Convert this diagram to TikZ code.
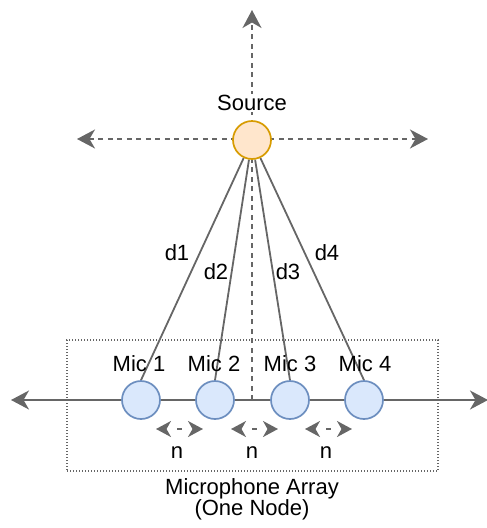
\documentclass[tikz,border=0pt]{standalone}
\usepackage{fontspec}
\setmainfont{Liberation Sans}
\usetikzlibrary{arrows.meta,backgrounds,calc}
\definecolor{linegray}{HTML}{666666}
\definecolor{srcfill}{HTML}{FFE6CC}
\definecolor{srcdraw}{HTML}{D79B00}
\definecolor{micfill}{HTML}{DAE8FC}
\definecolor{micdraw}{HTML}{6C8EBF}
\tikzset{
  lbl/.style={font=\fontsize{22}{24}\selectfont, inner sep=0pt, text=black},
  micnode/.style={circle, minimum size=38pt, inner sep=0pt, fill=micfill, draw=micdraw, line width=1.7pt},
  srcnode/.style={circle, minimum size=38pt, inner sep=0pt, fill=srcfill, draw=srcdraw, line width=1.7pt},
  conn/.style={draw=linegray, line width=1.8pt},
  dashline/.style={draw=linegray, line width=1.8pt, dash pattern=on 5pt off 4.5pt},
  bigtip/.style={arrows={-Stealth[length=18pt,width=19pt,inset=5.5pt]}},
  bigtips/.style={arrows={Stealth[length=18pt,width=19pt,inset=5.5pt]-Stealth[length=18pt,width=19pt,inset=5.5pt]}},
  smalltips/.style={draw=linegray, line width=1.8pt, dash pattern=on 0pt off 200pt,
     arrows={Stealth[length=15pt,width=16pt,inset=4.5pt]-Stealth[length=15pt,width=16pt,inset=4.5pt]}},
  middash/.style={draw=linegray, line width=1.8pt},
  arraybox/.style={draw=linegray, line width=1.2pt, dash pattern=on 1.2pt off 1.8pt, minimum width=371pt, minimum height=131pt, inner sep=0pt}
}
\begin{document}
\begin{tikzpicture}[x=1pt,y=-1pt]
\useasboundingbox (0,0) rectangle (487,528);
% nodes
\node[arraybox] (box) at (252.5,405.5) {};
\node[srcnode] (S) at (252,140) {};
\node[lbl, fill=white, inner sep=1pt] (slab) at (252,103) {Source};
\node[micnode] (m1) at (141,400) {};
\node[micnode] (m2) at (215,400) {};
\node[micnode] (m3) at (290,400) {};
\node[micnode] (m4) at (364,400) {};
\node[lbl] (l1) at (139,364) {Mic 1};
\node[lbl] (l2) at (214,364) {Mic 2};
\node[lbl] (l3) at (290,364) {Mic 3};
\node[lbl] (l4) at (365,364) {Mic 4};
\node[lbl] (d1) at (177,253) {d1};
\node[lbl] (d2) at (216,272) {d2};
\node[lbl] (d3) at (288,272) {d3};
\node[lbl] (d4) at (327,253) {d4};
\node[lbl] (n1) at (177,453) {n};
\node[lbl] (n2) at (252,453) {n};
\node[lbl] (n3) at (326,453) {n};
\node[lbl] (arr) at (252,489) {Microphone Array};
\node[lbl] (one) at (252,510) {(One Node)};
% free ends
\coordinate (vtop) at (252,10);
\coordinate (vbot) at (252,400);
\coordinate (hl) at (77,139);
\coordinate (hr) at (428,139);
\coordinate (al) at (11,400);
\coordinate (ar) at (488,400);
\coordinate (s1l) at (156,429); \coordinate (s1r) at (203,429);
\coordinate (s2l) at (231,429); \coordinate (s2r) at (278,429);
\coordinate (s3l) at (305,429); \coordinate (s3r) at (352,429);
\begin{scope}[on background layer]
  \draw[dashline, bigtip] (vbot) -- (vtop);
  \draw[dashline, bigtips] (hl) -- (hr);
  \draw[conn, bigtips] (al) -- (ar);
  \draw[conn] (S) -- (m1.north);
  \draw[conn] (S) -- (m2.north);
  \draw[conn] (S) -- (m3.north);
  \draw[conn] (S) -- (m4.north);
\end{scope}
\draw[smalltips] (s1l) -- (s1r);
\draw[smalltips] (s2l) -- (s2r);
\draw[smalltips] (s3l) -- (s3r);
\draw[middash] ($(s1l)!0.5!(s1r)+(-2.5,0)$) -- ++(5,0);
\draw[middash] ($(s2l)!0.5!(s2r)+(-2.5,0)$) -- ++(5,0);
\draw[middash] ($(s3l)!0.5!(s3r)+(-2.5,0)$) -- ++(5,0);
\end{tikzpicture}
\end{document}
